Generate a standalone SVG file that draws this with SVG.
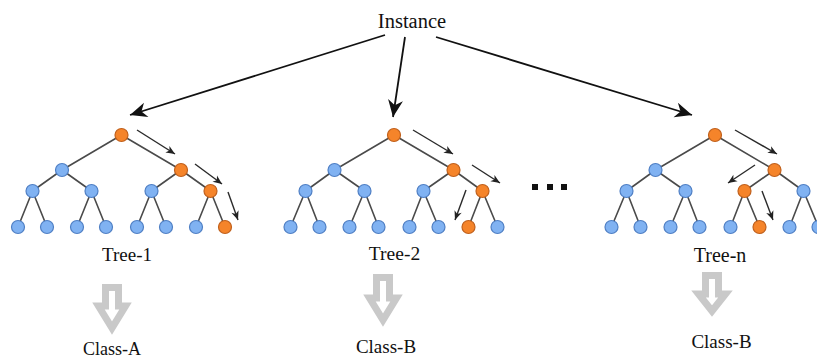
<svg xmlns="http://www.w3.org/2000/svg" width="817" height="358" viewBox="0 0 817 358">
<defs>
<marker id="big" markerUnits="userSpaceOnUse" markerWidth="20" markerHeight="16" viewBox="-18 -8 20 16" refX="0" refY="0" orient="auto">
<path d="M0,0 L-17,-7.5 L-12,0 L-17,7.5 Z" fill="#111"/>
</marker>
<marker id="small" markerUnits="userSpaceOnUse" markerWidth="12" markerHeight="10" viewBox="-10 -5 12 10" refX="0" refY="0" orient="auto">
<path d="M0,0 L-9,-3.8 L-6.5,0 L-9,3.8 Z" fill="#222"/>
</marker>
</defs>
<style>
.e{stroke:#4a4a4a;stroke-width:1.6;fill:none}
.b{fill:#80b2f2;stroke:#4f7fc4;stroke-width:1.2}
.o{fill:#f5842a;stroke:#c0601c;stroke-width:1.2}
.big{stroke:#111;stroke-width:1.8;fill:none;marker-end:url(#big)}
.sm{stroke:#2a2a2a;stroke-width:1.4;fill:none;marker-end:url(#small)}
.t{font-family:"Liberation Serif","Times New Roman",serif;fill:#111;text-anchor:middle}
.g{fill:#fff;stroke:#c9c9c9;stroke-width:7;stroke-linejoin:miter}
</style>
<rect width="817" height="358" fill="#fff"/>
<g id="connectors">
<path class="e" d="M121.5,135 L62,170 M121.5,135 L181,170 M62,170 L32.5,191 M62,170 L91.5,191 M181,170 L151.5,191 M181,170 L210.5,191 M32.5,191 L18,227 M32.5,191 L47,227 M91.5,191 L77,227 M91.5,191 L106,227 M151.5,191 L137,227 M151.5,191 L166,227 M210.5,191 L196,227 M210.5,191 L225,227"/>
<path class="e" d="M394,135 L334.5,170 M394,135 L453.5,170 M334.5,170 L305.5,191 M334.5,170 L364.5,191 M453.5,170 L423.5,191 M453.5,170 L482.5,191 M305.5,191 L290.5,227 M305.5,191 L319.5,227 M364.5,191 L349.5,227 M364.5,191 L378.5,227 M423.5,191 L409.5,227 M423.5,191 L438.5,227 M482.5,191 L468.5,227 M482.5,191 L497.5,227"/>
<path class="e" d="M715,135 L655.5,170 M715,135 L774.5,170 M655.5,170 L626.5,191 M655.5,170 L685.5,191 M774.5,170 L744.5,191 M774.5,170 L803.5,191 M626.5,191 L611.5,227 M626.5,191 L640.5,227 M685.5,191 L670.5,227 M685.5,191 L699.5,227 M744.5,191 L730.5,227 M744.5,191 L759.5,227 M803.5,191 L789.5,227 M803.5,191 L818.5,227"/>
<line class="big" x1="385" y1="35" x2="130" y2="115"/>
<line class="big" x1="405" y1="37" x2="393" y2="117"/>
<line class="big" x1="436" y1="37" x2="692" y2="115"/>
<line class="sm" x1="137" y1="130" x2="175" y2="154"/>
<line class="sm" x1="195" y1="164" x2="222" y2="184"/>
<line class="sm" x1="228" y1="192" x2="238" y2="220"/>
<line class="sm" x1="413" y1="130" x2="453" y2="154"/>
<line class="sm" x1="472" y1="165" x2="500" y2="183"/>
<line class="sm" x1="466" y1="190" x2="455" y2="220"/>
<line class="sm" x1="735" y1="130" x2="777" y2="154"/>
<line class="sm" x1="755" y1="165" x2="728" y2="183"/>
<line class="sm" x1="762" y1="191" x2="773" y2="220"/>
</g>
<g id="instance"><text class="t" x="412" y="28" font-size="20.5">Instance</text></g>
<g id="tree1">
<g id="t1-n1"><circle class="o" cx="121.5" cy="135" r="6.5"/></g>
<g id="t1-n2"><circle class="b" cx="62" cy="170" r="6.5"/></g>
<g id="t1-n3"><circle class="o" cx="181" cy="170" r="6.5"/></g>
<g id="t1-n4"><circle class="b" cx="32.5" cy="191" r="6.5"/></g>
<g id="t1-n5"><circle class="b" cx="91.5" cy="191" r="6.5"/></g>
<g id="t1-n6"><circle class="b" cx="151.5" cy="191" r="6.5"/></g>
<g id="t1-n7"><circle class="o" cx="210.5" cy="191" r="6.5"/></g>
<g id="t1-n8"><circle class="b" cx="18" cy="227" r="6.5"/></g>
<g id="t1-n9"><circle class="b" cx="47" cy="227" r="6.5"/></g>
<g id="t1-n10"><circle class="b" cx="77" cy="227" r="6.5"/></g>
<g id="t1-n11"><circle class="b" cx="106" cy="227" r="6.5"/></g>
<g id="t1-n12"><circle class="b" cx="137" cy="227" r="6.5"/></g>
<g id="t1-n13"><circle class="b" cx="166" cy="227" r="6.5"/></g>
<g id="t1-n14"><circle class="b" cx="196" cy="227" r="6.5"/></g>
<g id="t1-n15"><circle class="o" cx="225" cy="227" r="6.5"/></g>
<text class="t" x="127" y="261" font-size="19">Tree-1</text>
</g>
<g id="tree2">
<g id="t2-n1"><circle class="o" cx="394" cy="135" r="6.5"/></g>
<g id="t2-n2"><circle class="b" cx="334.5" cy="170" r="6.5"/></g>
<g id="t2-n3"><circle class="o" cx="453.5" cy="170" r="6.5"/></g>
<g id="t2-n4"><circle class="b" cx="305.5" cy="191" r="6.5"/></g>
<g id="t2-n5"><circle class="b" cx="364.5" cy="191" r="6.5"/></g>
<g id="t2-n6"><circle class="b" cx="423.5" cy="191" r="6.5"/></g>
<g id="t2-n7"><circle class="o" cx="482.5" cy="191" r="6.5"/></g>
<g id="t2-n8"><circle class="b" cx="290.5" cy="227" r="6.5"/></g>
<g id="t2-n9"><circle class="b" cx="319.5" cy="227" r="6.5"/></g>
<g id="t2-n10"><circle class="b" cx="349.5" cy="227" r="6.5"/></g>
<g id="t2-n11"><circle class="b" cx="378.5" cy="227" r="6.5"/></g>
<g id="t2-n12"><circle class="b" cx="409.5" cy="227" r="6.5"/></g>
<g id="t2-n13"><circle class="b" cx="438.5" cy="227" r="6.5"/></g>
<g id="t2-n14"><circle class="o" cx="468.5" cy="227" r="6.5"/></g>
<g id="t2-n15"><circle class="b" cx="497.5" cy="227" r="6.5"/></g>
<text class="t" x="394.5" y="260" font-size="19.5">Tree-2</text>
</g>
<g id="ellipsis">
<rect x="532" y="184" width="6" height="6" fill="#111"/>
<rect x="547" y="184" width="6" height="6" fill="#111"/>
<rect x="561" y="184" width="6" height="6" fill="#111"/>
</g>
<g id="treen">
<g id="tn-n1"><circle class="o" cx="715" cy="135" r="6.5"/></g>
<g id="tn-n2"><circle class="b" cx="655.5" cy="170" r="6.5"/></g>
<g id="tn-n3"><circle class="o" cx="774.5" cy="170" r="6.5"/></g>
<g id="tn-n4"><circle class="b" cx="626.5" cy="191" r="6.5"/></g>
<g id="tn-n5"><circle class="b" cx="685.5" cy="191" r="6.5"/></g>
<g id="tn-n6"><circle class="o" cx="744.5" cy="191" r="6.5"/></g>
<g id="tn-n7"><circle class="b" cx="803.5" cy="191" r="6.5"/></g>
<g id="tn-n8"><circle class="b" cx="611.5" cy="227" r="6.5"/></g>
<g id="tn-n9"><circle class="b" cx="640.5" cy="227" r="6.5"/></g>
<g id="tn-n10"><circle class="b" cx="670.5" cy="227" r="6.5"/></g>
<g id="tn-n11"><circle class="b" cx="699.5" cy="227" r="6.5"/></g>
<g id="tn-n12"><circle class="b" cx="730.5" cy="227" r="6.5"/></g>
<g id="tn-n13"><circle class="o" cx="759.5" cy="227" r="6.5"/></g>
<g id="tn-n14"><circle class="b" cx="789.5" cy="227" r="6.5"/></g>
<g id="tn-n15"><circle class="b" cx="818.5" cy="227" r="6.5"/></g>
<text class="t" x="720" y="261.5" font-size="20">Tree-n</text>
</g>
<g id="result1">
<path class="g" d="M105.5,287.5 H118.5 V306 H125.5 L112,328 L98.5,306 H105.5 Z"/>
<text class="t" x="112" y="355" font-size="18">Class-A</text>
</g>
<g id="result2">
<path class="g" d="M376.5,277.5 H389.5 V298 H396.5 L383,320 L369.5,298 H376.5 Z"/>
<text class="t" x="386" y="353" font-size="19">Class-B</text>
</g>
<g id="resultn">
<path class="g" d="M705.5,275.5 H718.5 V294 H725.5 L712,311 L698.5,294 H705.5 Z"/>
<text class="t" x="721.5" y="348" font-size="19">Class-B</text>
</g>
</svg>
